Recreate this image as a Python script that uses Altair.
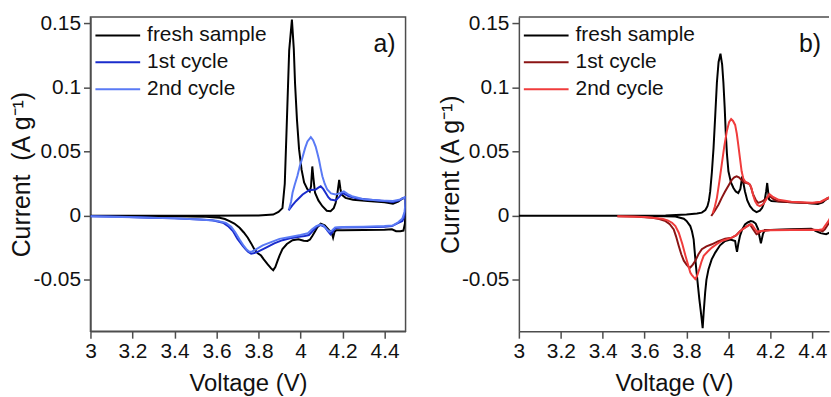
import altair as alt
import pandas as pd

series_names = ["fresh sample", "1st cycle", "2nd cycle"]
colors_a = ["#000000", "#1a2ccc", "#5a7af5"]
colors_b = ["#000000", "#8b1414", "#f03c3c"]
panel_labels = ["a)", "b)"]
y_titles = ["Current\u00a0 (A g\u207b\u00b9)", "Current (A g\u207b\u00b9)"]
x_ticks = [3, 3.2, 3.4, 3.6, 3.8, 4, 4.2, 4.4]
y_ticks = [-0.05, 0, 0.05, 0.1, 0.15]

# ---------------- panel a ----------------
a_fresh_v = [3.0, 3.5, 3.8, 3.87, 3.895, 3.914, 3.925, 3.933, 3.946, 3.959, 3.968, 3.974, 3.983, 3.993, 4.005,
             4.017, 4.032, 4.044, 4.05, 4.056, 4.061, 4.069, 4.085, 4.104, 4.125, 4.143, 4.158, 4.167, 4.176,
             4.184, 4.19, 4.195, 4.214, 4.25, 4.32, 4.4, 4.44, 4.465, 4.485, 4.5,
             4.5, 4.497, 4.49, 4.475, 4.455, 4.435, 4.4, 4.3, 4.2, 4.17, 4.162, 4.155, 4.148, 4.135, 4.115,
             4.096, 4.08, 4.068, 4.056, 4.045, 4.033, 4.015, 3.99, 3.962, 3.935, 3.914, 3.9, 3.891, 3.88,
             3.87, 3.86, 3.843, 3.825, 3.812, 3.795, 3.78, 3.765, 3.749, 3.73, 3.71, 3.685, 3.662, 3.64,
             3.615, 3.55, 3.4, 3.0]
a_fresh_i = [0.0, 0.0, 0.0003, 0.001, 0.003, 0.006, 0.025, 0.064, 0.129, 0.153, 0.13, 0.103, 0.075, 0.052, 0.036,
             0.026, 0.021, 0.019, 0.023, 0.0385, 0.03, 0.018, 0.012, 0.0075, 0.004, 0.0036, 0.006, 0.01, 0.018,
             0.028, 0.021, 0.0166, 0.014, 0.0125, 0.0115, 0.0105, 0.0095, 0.011, 0.0135, 0.014,
             0.005, -0.006, -0.0115, -0.012, -0.012, -0.0105, -0.0108, -0.011, -0.0112, -0.0113, -0.0125,
             -0.017, -0.013, -0.011, -0.0075, -0.0062, -0.009, -0.0125, -0.0158, -0.0185, -0.0196, -0.0195,
             -0.0183, -0.019, -0.022, -0.026, -0.031, -0.035, -0.04, -0.0424, -0.041, -0.0377, -0.034, -0.031,
             -0.029, -0.026, -0.0215, -0.0171, -0.013, -0.0093, -0.006, -0.0041, -0.0025, -0.0015, -0.0007,
             -0.0003, 0.0]

a_c1_v = [3.943, 3.96, 3.978, 4.01, 4.041, 4.072, 4.085, 4.096, 4.108, 4.12, 4.132, 4.143, 4.167, 4.185, 4.198,
          4.21, 4.23, 4.27, 4.33, 4.4, 4.44, 4.47, 4.49, 4.5,
          4.5, 4.495, 4.485, 4.466, 4.435, 4.4, 4.3, 4.2, 4.167, 4.155, 4.143, 4.13, 4.115, 4.096, 4.08, 4.06,
          4.04, 4.02, 3.993, 3.95, 3.914, 3.875, 3.836, 3.8, 3.78, 3.765, 3.75, 3.738, 3.725, 3.7, 3.678,
          3.655, 3.631, 3.58, 3.52, 3.4, 3.28, 3.15, 3.0]
a_c1_i = [0.0042, 0.008, 0.0114, 0.0166, 0.02, 0.0205, 0.022, 0.023, 0.021, 0.0178, 0.0145, 0.0127, 0.012, 0.015,
          0.0178, 0.017, 0.0153, 0.0135, 0.0125, 0.0115, 0.0108, 0.012, 0.014, 0.0145,
          0.008, 0.0, -0.004, -0.0055, -0.008, -0.0085, -0.009, -0.0092, -0.0095, -0.012, -0.0145, -0.012,
          -0.0085, -0.0072, -0.008, -0.0115, -0.015, -0.0158, -0.0163, -0.0175, -0.019, -0.0215, -0.0248,
          -0.0278, -0.029, -0.0295, -0.028, -0.026, -0.0235, -0.018, -0.0119, -0.008, -0.0054, -0.0035,
          -0.0028, -0.002, -0.0015, -0.0008, -0.0003]

a_c2_v = [3.945, 3.955, 3.962, 3.972, 3.985, 3.997, 4.01, 4.022, 4.033, 4.049, 4.06, 4.072, 4.08, 4.088, 4.096,
          4.104, 4.115, 4.127, 4.145, 4.167, 4.185, 4.206, 4.225, 4.245, 4.3, 4.38, 4.44, 4.47, 4.49, 4.5,
          4.5, 4.495, 4.485, 4.465, 4.44, 4.4, 4.3, 4.2, 4.165, 4.15, 4.138, 4.125, 4.108, 4.094, 4.075, 4.055,
          4.035, 4.0, 3.95, 3.9, 3.86, 3.82, 3.79, 3.77, 3.757, 3.745, 3.73, 3.71, 3.69, 3.67, 3.645, 3.6,
          3.52, 3.4, 3.25, 3.0]
a_c2_i = [0.005, 0.011, 0.018, 0.024, 0.031, 0.039, 0.046, 0.053, 0.058, 0.0613, 0.059, 0.054, 0.049, 0.0437, 0.037,
          0.0308, 0.025, 0.0205, 0.0175, 0.0166, 0.0175, 0.019, 0.017, 0.0153, 0.013, 0.012, 0.0115, 0.0125, 0.014,
          0.0145,
          0.01, 0.003, -0.002, -0.005, -0.0075, -0.008, -0.0085, -0.0088, -0.009, -0.0115, -0.0125, -0.0105,
          -0.0075, -0.0068, -0.008, -0.0105, -0.0135, -0.015, -0.0165, -0.018, -0.0205, -0.023, -0.026,
          -0.0278, -0.028, -0.0265, -0.0235, -0.0185, -0.013, -0.0085, -0.0055, -0.0038, -0.0028, -0.002,
          -0.0013, -0.0003]

# ---------------- panel b ----------------
b_fresh_v = [3.0, 3.5, 3.7, 3.8, 3.85, 3.873, 3.89, 3.9, 3.907, 3.913, 3.921, 3.929, 3.937, 3.945, 3.953, 3.962,
             3.97, 3.976, 3.982, 3.987, 3.993, 4.0, 4.012, 4.024, 4.035, 4.047, 4.057, 4.066, 4.072, 4.079, 4.09,
             4.103, 4.118, 4.134, 4.15, 4.161, 4.172, 4.18, 4.185, 4.19, 4.194, 4.205, 4.221, 4.3, 4.364, 4.427,
             4.45, 4.474, 4.49, 4.5,
             4.5, 4.495, 4.485, 4.466, 4.44, 4.418, 4.395, 4.3, 4.2, 4.174, 4.165, 4.155, 4.148, 4.142, 4.13,
             4.118, 4.107, 4.092, 4.079, 4.065, 4.055, 4.047, 4.041, 4.036, 4.032, 4.01, 3.984, 3.96, 3.937,
             3.92, 3.905, 3.895, 3.889, 3.882, 3.877, 3.872, 3.867, 3.861, 3.853, 3.845, 3.838, 3.834, 3.826,
             3.818, 3.8, 3.787, 3.747, 3.6, 3.0]
b_fresh_i = [0.0, 0.0, 0.0003, 0.001, 0.0018, 0.0025, 0.0045, 0.0075, 0.012, 0.019, 0.034, 0.053, 0.078, 0.104,
             0.12, 0.1264, 0.118, 0.104, 0.085, 0.0657, 0.048, 0.0347, 0.026, 0.0217, 0.019, 0.0178, 0.021, 0.0308,
             0.025, 0.019, 0.012, 0.0075, 0.0045, 0.0029, 0.004, 0.0062, 0.011, 0.019, 0.0256, 0.018, 0.0127,
             0.0115, 0.0114, 0.0105, 0.0101, 0.0093, 0.0105, 0.014, 0.0145, 0.0145,
             0.005, -0.008, -0.013, -0.0144, -0.0135, -0.0119, -0.01, -0.0105, -0.011, -0.0111, -0.014, -0.0214,
             -0.016, -0.0106, -0.006, -0.0045, -0.0041, -0.0052, -0.0067, -0.011, -0.0157, -0.022, -0.0281,
             -0.024, -0.0196, -0.0185, -0.0196, -0.023, -0.0287, -0.034, -0.0416, -0.05, -0.0597, -0.075,
             -0.0876, -0.08, -0.073, -0.0648, -0.052, -0.039, -0.026, -0.0183, -0.012, -0.008, -0.004, -0.0023,
             -0.0005, 0.0, 0.0]

b_c1_v = [3.918, 3.935, 3.953, 3.968, 3.984, 4.0, 4.016, 4.028, 4.039, 4.05, 4.063, 4.075, 4.087, 4.097, 4.103,
          4.11, 4.118, 4.13, 4.142, 4.158, 4.174, 4.188, 4.198, 4.215, 4.237, 4.3, 4.4, 4.44, 4.47, 4.49, 4.5,
          4.5, 4.49, 4.478, 4.46, 4.45, 4.43, 4.4, 4.3, 4.2, 4.158, 4.145, 4.134, 4.12, 4.103, 4.09, 4.075,
          4.055, 4.035, 4.016, 3.984, 3.95, 3.921, 3.895, 3.873, 3.857, 3.842, 3.83, 3.818, 3.81, 3.8, 3.787,
          3.775, 3.763, 3.75, 3.739, 3.72, 3.7, 3.67, 3.637, 3.55, 3.47]
b_c1_i = [-0.0002, 0.004, 0.0088, 0.014, 0.019, 0.0235, 0.028, 0.03, 0.0308, 0.03, 0.028, 0.026, 0.0256, 0.025,
          0.0243, 0.021, 0.0166, 0.0125, 0.0101, 0.011, 0.0127, 0.015, 0.0153, 0.013, 0.0114, 0.0105, 0.0098,
          0.0105, 0.013, 0.0145, 0.015,
          0.008, -0.002, -0.006, -0.0105, -0.0119, -0.0112, -0.0108, -0.0108, -0.011, -0.0119, -0.0135,
          -0.0144, -0.011, -0.0067, -0.008, -0.0095, -0.012, -0.0155, -0.017, -0.0178, -0.02, -0.0222,
          -0.0238, -0.026, -0.03, -0.035, -0.038, -0.0403, -0.0398, -0.038, -0.035, -0.03, -0.0235, -0.016,
          -0.0106, -0.0065, -0.0041, -0.0025, -0.0015, -0.0006, -0.0003]

b_c2_v = [3.925, 3.935, 3.945, 3.957, 3.968, 3.98, 3.992, 4.003, 4.013, 4.022, 4.032, 4.04, 4.047, 4.055, 4.063,
          4.071, 4.079, 4.088, 4.095, 4.103, 4.11, 4.118, 4.127, 4.138, 4.15, 4.165, 4.18, 4.195, 4.21, 4.24,
          4.3, 4.4, 4.44, 4.47, 4.49, 4.5,
          4.5, 4.49, 4.478, 4.46, 4.45, 4.43, 4.4, 4.3, 4.2, 4.155, 4.145, 4.139, 4.125, 4.111, 4.095, 4.08,
          4.063, 4.04, 4.016, 3.99, 3.968, 3.945, 3.921, 3.9, 3.882, 3.871, 3.861, 3.85, 3.842, 3.835, 3.825,
          3.818, 3.807, 3.795, 3.78, 3.763, 3.747, 3.731, 3.71, 3.684, 3.6, 3.47]
b_c2_i = [0.002, 0.007, 0.014, 0.027, 0.04, 0.054, 0.0657, 0.073, 0.0755, 0.074, 0.0709, 0.064, 0.0553, 0.045,
          0.0347, 0.029, 0.0269, 0.026, 0.0256, 0.024, 0.0217, 0.016, 0.0114, 0.0085, 0.0075, 0.009, 0.0125,
          0.017, 0.015, 0.0125, 0.011, 0.0102, 0.011, 0.0135, 0.015, 0.0152,
          0.009, 0.0, -0.004, -0.008, -0.0105, -0.011, -0.0108, -0.011, -0.0112, -0.0118, -0.012, -0.0127,
          -0.01, -0.0067, -0.0075, -0.0092, -0.011, -0.0148, -0.017, -0.0185, -0.0196, -0.022, -0.0248,
          -0.028, -0.0312, -0.036, -0.0416, -0.047, -0.0493, -0.048, -0.046, -0.0442, -0.038, -0.0312,
          -0.022, -0.0132, -0.008, -0.0054, -0.0035, -0.0023, -0.001, -0.0003]

FONT = "Liberation Sans"
FRAME = "#4d4d4d"
Y_DOMAIN = [-0.09, 0.155]
HEIGHT = 316
TICK_FS = 21
X_TITLE_FS = 24
Y_TITLE_FS = 25
LEGEND_FS = 21


def make_frame(pairs):
    rows = []
    for name, vs, cs in pairs:
        for k, (v, c) in enumerate(zip(vs, cs)):
            rows.append({"series": name, "i": k, "V": v, "I": c})
    return pd.DataFrame(rows)


label_expr = "datum.value < 0 ? '-' + format(-datum.value, '~g') : format(datum.value, '~g')"


def panel(df, colors, letter, ytitle, xmax, width, letter_x, frame_top):
    x_axis = alt.Axis(values=x_ticks, labelExpr=label_expr, title="Voltage (V)", grid=False,
                      tickSize=7, labelPadding=2, titlePadding=11, domainColor=FRAME, tickColor=FRAME,
                      domainWidth=1.5, tickWidth=1.5, labelFontSize=TICK_FS, titleFontSize=X_TITLE_FS,
                      labelFont=FONT, titleFont=FONT, labelColor="#111", titleColor="#111",
                      titleFontWeight="normal", labelOverlap=False, labelFlush=False)
    y_axis = alt.Axis(values=y_ticks, labelExpr=label_expr, title=ytitle, grid=False,
                      tickSize=7, labelPadding=3, titlePadding=-2, domainColor=FRAME, tickColor=FRAME,
                      domainWidth=1.5, tickWidth=1.5, labelFontSize=TICK_FS, titleFontSize=Y_TITLE_FS,
                      labelFont=FONT, titleFont=FONT, labelColor="#111", titleColor="#111",
                      titleFontWeight="normal", labelOverlap=False, labelFlush=False)
    lines = alt.Chart(df).mark_line(strokeWidth=2, clip=True, interpolate="linear").encode(
        x=alt.X("V:Q", scale=alt.Scale(domain=[3, xmax], nice=False, zero=False), axis=x_axis),
        y=alt.Y("I:Q", scale=alt.Scale(domain=Y_DOMAIN, nice=False, zero=False), axis=y_axis),
        color=alt.Color("series:N", sort=series_names,
                        scale=alt.Scale(domain=series_names, range=colors),
                        legend=alt.Legend(orient="none", legendX=17, legendY=8, title=None,
                                          symbolType="M-2.5,0H2.5", symbolSize=324, symbolStrokeWidth=2,
                                          labelFontSize=LEGEND_FS, labelFont=FONT, labelColor="#111",
                                          labelOffset=19, rowPadding=5, padding=0, labelLimit=400)),
        order=alt.Order("i:Q"),
    )
    text = alt.Chart(pd.DataFrame({"t": [letter]})).mark_text(
        align="right", baseline="alphabetic", fontSize=25, font=FONT, color="#111"
    ).encode(text="t:N", x=alt.value(letter_x), y=alt.value(35))
    layers = [lines, text]
    if frame_top:
        top = alt.Chart(pd.DataFrame({"t": [0]})).mark_rule(color=FRAME, strokeWidth=1.5).encode(
            x=alt.value(0), x2=alt.value(width), y=alt.value(0))
        layers.append(top)
        view = alt.ViewBackground(stroke="transparent")
    else:
        view = alt.ViewBackground(stroke=FRAME, strokeWidth=1.5)
    return alt.layer(*layers).properties(width=width, height=HEIGHT, view=view)


df_a = make_frame([(series_names[0], a_fresh_v, a_fresh_i),
                   (series_names[1], a_c1_v, a_c1_i),
                   (series_names[2], a_c2_v, a_c2_i)])
df_b = make_frame([(series_names[0], b_fresh_v, b_fresh_i),
                   (series_names[1], b_c1_v, b_c1_i),
                   (series_names[2], b_c2_v, b_c2_i)])

pa = panel(df_a, colors_a, panel_labels[0], y_titles[0], 4.5, 317, 307, False)
pb = panel(df_b, colors_b, panel_labels[1], y_titles[1], 4.48, 312, 304, True)

chart = alt.hconcat(pa, pb, spacing=31).resolve_scale(color="independent").properties(
    padding={"left": 9, "top": 10, "right": 0, "bottom": 0},
    background="white",
)

chart.save("out.html", embed_options={"renderer": "svg", "actions": False})
